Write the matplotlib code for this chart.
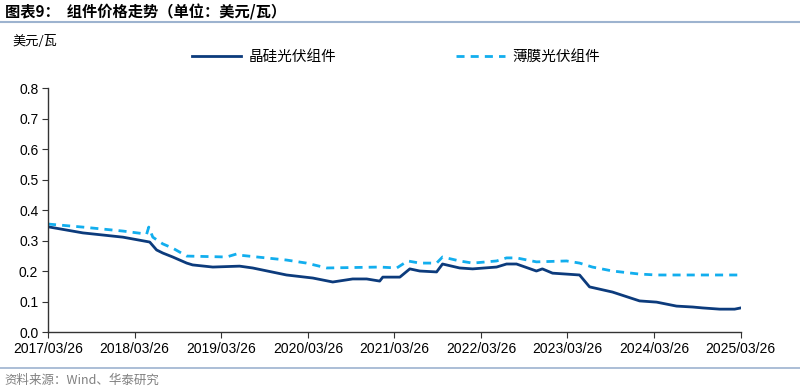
import numpy as np
import pandas as pd
import matplotlib
matplotlib.use('Agg')
import matplotlib.pyplot as plt
from matplotlib.lines import Line2D

plt.rcParams['font.family'] = ['Noto Sans CJK SC', 'DejaVu Sans']

# 晶硅光伏组件 (美元/瓦)
si_dates = ['2017-03-26', '2017-08-20', '2018-02-05', '2018-05-29', '2018-06-27',
            '2018-07-23', '2018-09-03', '2018-11-01', '2018-11-26', '2019-02-19',
            '2019-06-12', '2019-08-06', '2019-12-27', '2020-04-16', '2020-07-09',
            '2020-10-01', '2020-11-29', '2021-01-23', '2021-02-05', '2021-04-18',
            '2021-05-30', '2021-07-11', '2021-09-20', '2021-10-15', '2021-12-26',
            '2022-02-19', '2022-05-31', '2022-07-12', '2022-08-23', '2022-11-15',
            '2022-12-10', '2023-01-22', '2023-05-16', '2023-06-27', '2023-10-02',
            '2024-01-24', '2024-04-05', '2024-06-28', '2024-09-04', '2024-10-16',
            '2024-12-27', '2025-02-28', '2025-03-26']
si_vals = [0.345, 0.325, 0.311, 0.295, 0.269,
           0.259, 0.246, 0.226, 0.220, 0.213,
           0.216, 0.210, 0.187, 0.177, 0.164,
           0.174, 0.174, 0.167, 0.180, 0.180,
           0.207, 0.200, 0.197, 0.223, 0.210,
           0.207, 0.213, 0.223, 0.223, 0.200,
           0.207, 0.193, 0.187, 0.148, 0.131,
           0.102, 0.098, 0.085, 0.082, 0.079,
           0.075, 0.075, 0.079]

# 薄膜光伏组件 (美元/瓦)
tf_dates = ['2017-03-26', '2017-08-20', '2018-02-05', '2018-05-16', '2018-05-25',
            '2018-06-11', '2018-07-23', '2018-09-03', '2018-11-01', '2019-04-18',
            '2019-05-31', '2019-06-12', '2019-12-27', '2020-03-20', '2020-06-14',
            '2021-01-23', '2021-04-05', '2021-05-21', '2021-07-11', '2021-09-20',
            '2021-10-15', '2021-12-26', '2022-02-19', '2022-05-31', '2022-07-12',
            '2022-08-23', '2022-11-15', '2023-03-22', '2023-05-16', '2023-07-09',
            '2023-10-02', '2024-01-24', '2024-04-05', '2025-03-26']
tf_vals = [0.354, 0.344, 0.331, 0.321, 0.344,
           0.311, 0.289, 0.275, 0.249, 0.246,
           0.256, 0.252, 0.236, 0.226, 0.210,
           0.213, 0.210, 0.233, 0.226, 0.226,
           0.246, 0.233, 0.226, 0.233, 0.243,
           0.243, 0.230, 0.233, 0.226, 0.213,
           0.200, 0.190, 0.187, 0.187]

tick_labels = ['2017/03/26', '2018/03/26', '2019/03/26', '2020/03/26', '2021/03/26',
               '2022/03/26', '2023/03/26', '2024/03/26', '2025/03/26']

dark = '#0C3B7C'
light = '#12AEEE'
rule = '#9DB3CF'
dash = (2.9, 2.2)

fig = plt.figure(figsize=(8, 3.92), dpi=100)
ax = fig.add_axes([0.06, 0.153, 0.866, 0.6225])

ax.plot(pd.to_datetime(si_dates), si_vals, color=dark, lw=2.0, solid_joinstyle='round')
ax.plot(pd.to_datetime(tf_dates), tf_vals, color=light, lw=2.0, dashes=dash)

ticks = pd.to_datetime([t.replace('/', '-') for t in tick_labels])
ax.set_xticks(ticks)
ax.set_xticklabels(tick_labels, fontsize=10, family='Liberation Sans')
ax.set_xlim(ticks[0], ticks[-1])
ax.set_ylim(0, 0.8)
ax.set_yticks(np.arange(0, 0.81, 0.1))
ax.set_yticklabels(['%.1f' % v for v in np.arange(0, 0.81, 0.1)], fontsize=10, family='Liberation Sans')
for s in ['top', 'right']:
    ax.spines[s].set_visible(False)
for s in ['left', 'bottom']:
    ax.spines[s].set_color('#333333')
    ax.spines[s].set_linewidth(1.0)
ax.tick_params(axis='both', direction='out', length=4, color='#333333', pad=3)

# title and rules
fig.text(0.006, 0.968, '图表9：  组件价格走势（单位：美元/瓦）', fontsize=11, fontweight='bold',
         va='center', ha='left')
fig.add_artist(Line2D([0, 1], [0.944, 0.944], color=rule, lw=1.5, transform=fig.transFigure))
fig.add_artist(Line2D([0, 1], [0.061, 0.061], color=rule, lw=1.2, transform=fig.transFigure))
fig.text(0.006, 0.03, '资料来源：Wind、华泰研究', fontsize=9, color='#808080', va='center', ha='left')
fig.text(0.016, 0.893, '美元/瓦', fontsize=9.5, va='center', ha='left')

# legend
handles = [Line2D([], [], color=dark, lw=2.0),
           Line2D([], [], color=light, lw=2.0, dashes=dash)]
fig.legend(handles, ['晶硅光伏组件', '薄膜光伏组件'], loc='center', bbox_to_anchor=(0.495, 0.855),
           ncol=2, frameon=False, fontsize=10.5, handlelength=3.4, columnspacing=8.2,
           handletextpad=0.5)

fig.savefig('out.png', dpi=100)
